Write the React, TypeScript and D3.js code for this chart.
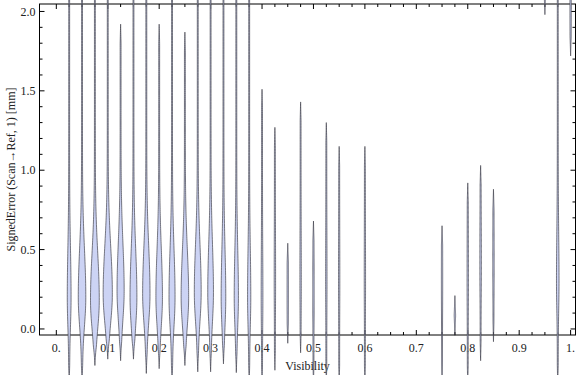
import { useMemo } from "react";
import * as d3 from "d3";

const WIDTH = 576;
const HEIGHT = 375;
const FONT = "'Liberation Serif', 'DejaVu Serif', serif";
const FILL = "#ccd3f4";
const EDGE = "#3c3c46";

// violin positions on the Visibility axis
const positions = [
  0.025, 0.05, 0.075, 0.1, 0.125, 0.15, 0.175, 0.2, 0.225, 0.25, 0.275, 0.3,
  0.325, 0.35, 0.375, 0.4, 0.425, 0.45, 0.475, 0.5, 0.525, 0.55, 0.6, 0.75,
  0.775, 0.8, 0.825, 0.85, 0.95, 0.975, 1.0,
];
// lowest / highest signed error of each distribution
const lows = [
  -0.35, -0.35, -0.23, -0.19, -0.2, -0.19, -0.28, -0.25, -0.35, -0.23, -0.27,
  -0.27, -0.22, -0.275, -0.35, -0.35, -0.26, -0.09, -0.15, -0.35, -0.35, -0.35,
  -0.35, -0.35, -0.04, -0.35, -0.2, -0.08, 1.98, -0.35, 1.72,
];
const highs = [
  2.4, 2.4, 2.4, 2.4, 1.92, 2.4, 2.4, 1.92, 2.4, 1.87, 2.4, 2.4, 2.4, 2.4, 2.4,
  1.51, 1.27, 0.54, 1.43, 0.68, 1.3, 1.15, 1.15, 0.65, 0.21, 0.92, 1.03, 0.88,
  2.4, 2.4, 2.4,
];
// where each distribution is densest
const modes = [
  0.2, 0.2, 0.18, 0.22, 0.24, 0.2, 0.22, 0.2, 0.2, 0.2, 0.23, 0.23, 0.2, 0.2,
  0.2, 0.2, 0.3, 0.2, 0.3, 0.2, 0.3, 0.3, 0.3, 0.3, 0.1, 0.3, 0.4, 0.4, 2.1,
  0.3, 2.0,
];
// relative peak density
const peaks = [
  0.35, 0.8, 0.95, 1.0, 0.75, 0.72, 0.78, 0.68, 0.62, 0.8, 0.72, 0.58, 0.45,
  0.4, 0.28, 0.1, 0.06, 0.06, 0.06, 0.06, 0.06, 0.05, 0.05, 0.05, 0.06, 0.06,
  0.08, 0.06, 0.05, 0.2, 0.06,
];

const xTicksMajor = [0, 0.1, 0.2, 0.3, 0.4, 0.5, 0.6, 0.7, 0.8, 0.9, 1.0];
const xTickLabels = ["0.", "0.1", "0.2", "0.3", "0.4", "0.5", "0.6", "0.7", "0.8", "0.9", "1."];
const yTicksMajor = [0, 0.5, 1.0, 1.5, 2.0];
const yTickLabels = ["0.0", "0.5", "1.0", "1.5", "2.0"];

function App() {
  const x = d3.scaleLinear().domain([-0.0327, 1.0095]).range([39.5, 575.5]);
  const y = d3.scaleLinear().domain([-0.038, 2.047]).range([335, 4]);
  const w = d3.scaleLinear().domain([0, 1]).range([0.45, 4.6]);

  const [x0, x1] = x.range();
  const [y0, y1] = y.range();

  const xMinor = d3.range(0, 1.0001, 0.025).filter((t) => Math.abs(t * 10 - Math.round(t * 10)) > 1e-6);
  const yMinor = d3.range(0, 2.0001, 0.1).filter((t) => Math.abs(t * 2 - Math.round(t * 2)) > 1e-6);

  const violins = useMemo(() => {
    return positions.map((p, i) => {
      const lo = lows[i];
      const hi = highs[i];
      const m = modes[i];
      const ys = d3.range(0, 161).map((k) => lo + ((hi - lo) * k) / 160);
      const prof = ys.map((v) => {
        const s = v < m ? 0.18 : 0.3;
        const dens = peaks[i] * Math.exp(-0.5 * ((v - m) / s) ** 2);
        const taper = Math.min(1, (v - lo) / 0.12, (hi - v) / 0.12);
        return { v, hw: w(dens) * Math.max(0, taper) };
      });
      const area = d3
        .area<{ v: number; hw: number }>()
        .y((d) => y(d.v))
        .x0((d) => x(p) - d.hw)
        .x1((d) => x(p) + d.hw)
        .curve(d3.curveBasis);
      return area(prof) || "";
    });
  }, []);

  return (
    <svg
      width={WIDTH}
      height={HEIGHT}
      style={{ position: "absolute", left: 0, top: 0, background: "#fff" }}
      fontFamily={FONT}
    >
      {/* frame */}
      <rect x={x0} y={y1} width={x1 - x0} height={y0 - y1} fill="none" stroke="#000" strokeWidth={1} />

      {/* x ticks */}
      {xTicksMajor.map((t) => (
        <g key={"xm" + t}>
          <line x1={x(t)} x2={x(t)} y1={y0} y2={y0 - 5} stroke="#000" />
          <line x1={x(t)} x2={x(t)} y1={y1} y2={y1 + 5} stroke="#000" />
        </g>
      ))}
      {xMinor.map((t) => (
        <g key={"xn" + t}>
          <line x1={x(t)} x2={x(t)} y1={y0} y2={y0 - 3} stroke="#000" />
          <line x1={x(t)} x2={x(t)} y1={y1} y2={y1 + 3} stroke="#000" />
        </g>
      ))}
      {/* y ticks */}
      {yTicksMajor.map((t) => (
        <g key={"ym" + t}>
          <line x1={x0} x2={x0 + 5} y1={y(t)} y2={y(t)} stroke="#000" />
          <line x1={x1} x2={x1 - 5} y1={y(t)} y2={y(t)} stroke="#000" />
        </g>
      ))}
      {yMinor.map((t) => (
        <g key={"yn" + t}>
          <line x1={x0} x2={x0 + 3} y1={y(t)} y2={y(t)} stroke="#000" />
          <line x1={x1} x2={x1 - 3} y1={y(t)} y2={y(t)} stroke="#000" />
        </g>
      ))}

      {/* tick labels */}
      {xTicksMajor.map((t, i) => (
        <text key={"xl" + t} x={x(t)} y={y0 + 17} textAnchor="middle" fontSize={12} fill="#222">
          {xTickLabels[i]}
        </text>
      ))}
      {yTicksMajor.map((t, i) => (
        <text key={"yl" + t} x={x0 - 4} y={y(t)} dy="0.35em" textAnchor="end" fontSize={12} fill="#222">
          {yTickLabels[i]}
        </text>
      ))}

      {/* axis titles */}
      <text x={(x0 + x1) / 2} y={370} textAnchor="middle" fontSize={12} fill="#222">
        Visibility
      </text>
      <text
        transform={`translate(15, ${(y0 + y1) / 2}) rotate(-90)`}
        textAnchor="middle"
        fontSize={12}
        fill="#222"
      >
        SignedError (Scan→Ref, 1) [mm]
      </text>

      {/* violins */}
      {violins.map((d, i) => (
        <path key={i} d={d} fill={FILL} stroke={EDGE} strokeOpacity={0.75} strokeWidth={0.9} />
      ))}
    </svg>
  );
}

export default App;
